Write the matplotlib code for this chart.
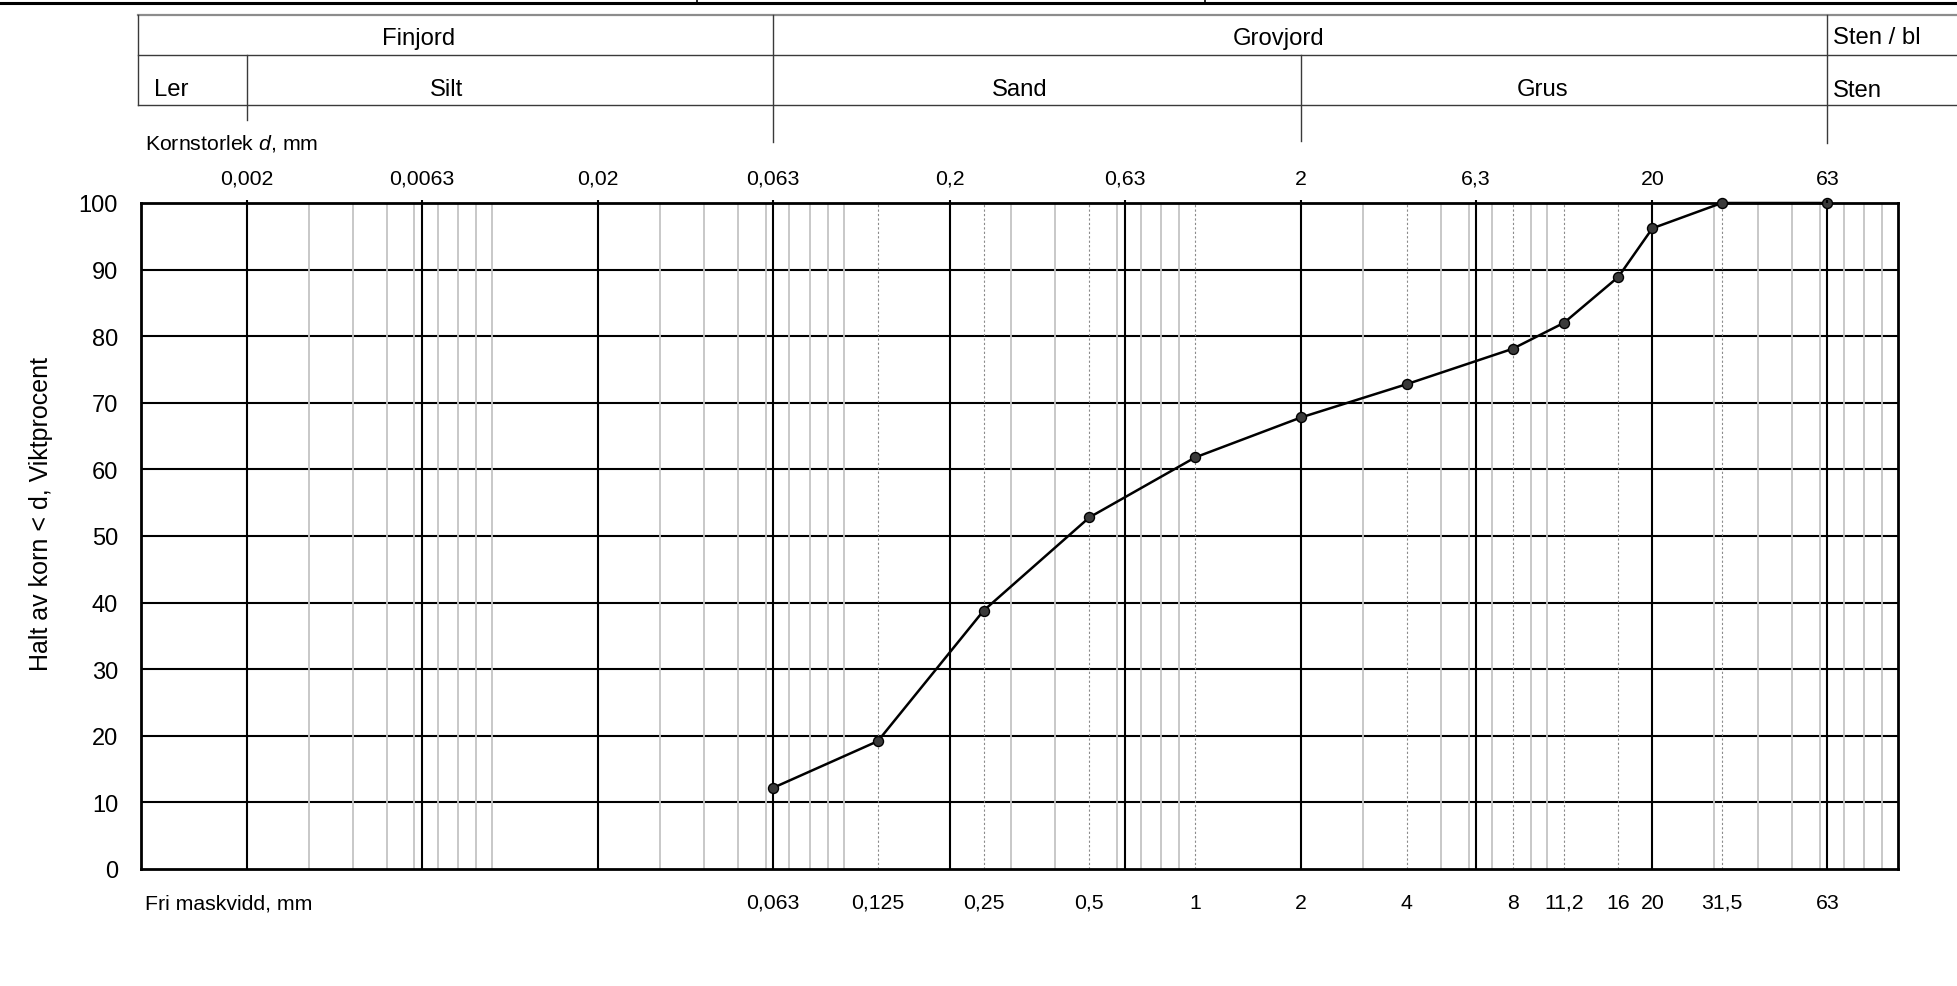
import numpy as np
import matplotlib.pyplot as plt
import matplotlib.ticker as ticker
from matplotlib.lines import Line2D
from matplotlib.transforms import blended_transform_factory

plt.rcParams['font.family'] = ['Liberation Sans', 'DejaVu Sans']
plt.rcParams['mathtext.fontset'] = 'custom'
plt.rcParams['mathtext.rm'] = 'Liberation Sans'
plt.rcParams['mathtext.it'] = 'Liberation Sans:italic'

# sieve analysis (fri maskvidd, mm -> passing %)
sieve_mm = [0.063, 0.125, 0.25, 0.5, 1, 2, 4, 8, 11.2, 16, 20, 31.5, 63]
passing_pct = [12.2, 19.2, 38.8, 52.8, 61.8, 67.8, 72.8, 78.1, 82.0, 88.9, 96.2, 100, 100]

# grain size limits (kornstorlek d, mm)
grain_limits = [0.002, 0.0063, 0.02, 0.063, 0.2, 0.63, 2, 6.3, 20, 63]
y_ticks = list(range(0, 101, 10))

# soil classification table
group_names = ["Finjord", "Grovjord", "Sten / bl"]
fraction_names = ["Ler", "Silt", "Sand", "Grus", "Sten"]
fraction_limits = [0.002, 0.063, 2, 63]

W, H = 1957, 987


def fx(px):
    return px / W


def fy(py):
    return 1 - py / H


def sv(v):
    return f"{v:g}".replace(".", ",")


fig = plt.figure(figsize=(W / 100, H / 100), dpi=100)
ax = fig.add_axes([fx(141), fy(870), 1757 / W, 666 / H])
ax.set_xscale('log')
ax.set_xlim(0.001, 100)
ax.set_ylim(0, 100)

# light grid: 3..10 in every decade, except where a sieve / limit line sits
minor = []
for k in range(-3, 2):
    for m in range(3, 11):
        v = m * 10.0 ** k
        if v >= 100 or np.any(np.isclose(v, sieve_mm + grain_limits, rtol=1e-3)):
            continue
        minor.append(v)
sieve_only = [s for s in sieve_mm if not np.any(np.isclose(s, grain_limits))]

ax.hlines(y_ticks[1:-1], 0.001, 100, colors='black', lw=1.5, zorder=1)
ax.vlines(minor, 0, 100, colors='#c4c4c4', lw=1.3, zorder=1.2)
ax.vlines(sieve_only, 0, 100, colors='#8a8a8a', lw=0.8,
          linestyles=(0, (2, 2)), zorder=1.3)
ax.vlines(grain_limits, 0, 100, colors='black', lw=1.5, zorder=1.5)

ax.plot(sieve_mm, passing_pct, '-o', color='black', lw=1.8, ms=7.2,
        mfc='#3a3a3a', mec='black', mew=1, zorder=4, clip_on=False)

for s in ax.spines.values():
    s.set_linewidth(2)
    s.set_zorder(3)

ax.set_xticks(sieve_mm, [sv(v) for v in sieve_mm])
ax.xaxis.set_minor_locator(ticker.NullLocator())
ax.tick_params(axis='x', length=0, pad=17, labelsize=15.3)
ax.set_yticks(y_ticks)
ax.tick_params(axis='y', length=0, pad=16.5, labelsize=17)

# top axis with the grain size limits
ax2 = ax.twiny()
ax2.set_xscale('log')
ax2.set_xlim(ax.get_xlim())
ax2.set_xticks(grain_limits, [sv(v) for v in grain_limits])
ax2.xaxis.set_minor_locator(ticker.NullLocator())
ax2.tick_params(axis='x', length=2.5, width=1.5, direction='out', pad=8.5,
                labelsize=15.3)
for s in ax2.spines.values():
    s.set_visible(False)

fig.text(fx(145), fy(150), "Kornstorlek $d$, mm", fontsize=15.3, va='baseline')
fig.text(fx(145), fy(909), "Fri maskvidd, mm", fontsize=15.3, va='baseline')
fig.text(fx(41), fy(514), "Halt av korn < d, Viktprocent", rotation=90,
         fontsize=18, ha='center', va='center')

# header frame (cut off at the top)
fig.add_artist(Line2D([0, 1], [fy(4), fy(4)], transform=fig.transFigure,
                      color='black', lw=2.2))
for x in [697, 1205]:
    fig.add_artist(Line2D([fx(x), fx(x)], [fy(0), fy(4)],
                          transform=fig.transFigure, color='black', lw=1.2))

# classification table
fig.add_artist(Line2D([fx(138), 1], [fy(15.7), fy(15.7)],
                      transform=fig.transFigure, color='#8c8c8c', lw=1.6))
for y in [56, 106]:
    fig.add_artist(Line2D([fx(138), 1], [fy(y), fy(y)],
                          transform=fig.transFigure, color='#3a3a3a', lw=1.0))
fig.add_artist(Line2D([fx(138), fx(138)], [fy(15.7), fy(106)],
                      transform=fig.transFigure, color='#3a3a3a', lw=1.0))

blend = blended_transform_factory(ax.transData, fig.transFigure)
div_top = [56, 15.7, 56, 15.7]
div_bottom = [121, 143, 142, 144]
for v, t, b in zip(fraction_limits, div_top, div_bottom):
    fig.add_artist(Line2D([v, v], [fy(t), fy(b)], transform=blend,
                          color='#3a3a3a', lw=1.0))

for name, x in zip(group_names[:2], [419, 1279]):
    fig.text(fx(x), fy(45), name, fontsize=17.2, ha='center', va='baseline')
fig.text(fx(1833), fy(44), group_names[2], fontsize=17.2, va='baseline')

for name, x in zip(fraction_names[:4], [171, 446.5, 1019.5, 1543]):
    fig.text(fx(x), fy(95.5), name, fontsize=17.2, ha='center', va='baseline')
fig.text(fx(1833), fy(97), fraction_names[4], fontsize=17.2, va='baseline')

fig.savefig('out.png', dpi=100)
